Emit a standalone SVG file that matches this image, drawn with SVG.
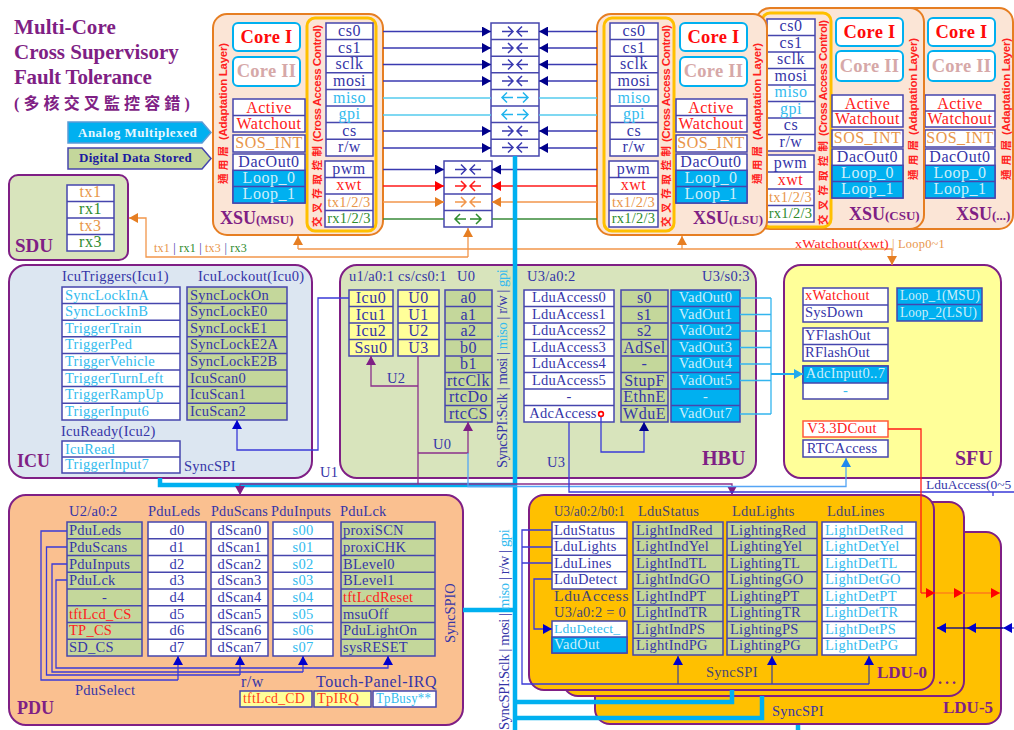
<svg xmlns="http://www.w3.org/2000/svg" width="1014" height="730" viewBox="0 0 1014 730">
<defs>
<style>
text{font-family:"Liberation Serif","Noto Sans CJK TC",serif;font-size:14.5px;letter-spacing:.25px;fill:#3535a8}
.m{text-anchor:middle}
.big{font-size:16px;letter-spacing:.5px}
.n{fill:#3535a8}.k{fill:#33bbee}.r{fill:#ff2020}.a{fill:#e8964a}.g{fill:#2e8b2e}.w{fill:#cdeefa}
.p{fill:#7f1f85;font-weight:bold;font-size:20px;letter-spacing:0}
.px{fill:#7f1f85;font-weight:bold;font-size:18px;letter-spacing:0}
.pp{fill:#7f1f85;font-weight:bold;font-size:13px;letter-spacing:0}
.ti{fill:#7f1f85;font-weight:bold;font-size:21px;letter-spacing:.2px}
.ci{fill:#ff0a0a;font-weight:bold;font-size:18.5px}
.cii{fill:#d6a8a8;font-weight:bold;font-size:18.5px}
.v{font-family:"Liberation Sans","Noto Sans CJK TC",sans-serif;font-weight:bold;font-size:11.5px;fill:#ff2020;letter-spacing:0}
.vc{font-size:10.5px}
.box{stroke:#7f1f85;stroke-width:2}
.xsu{fill:#fbe5d6;stroke:#e67e22;stroke-width:2}
.ylw{fill:#fbe5d6;stroke:#ffc000;stroke-width:3}
.core{fill:#fff;stroke:#00b0f0;stroke-width:2}
.b,.o,.y,.s{stroke:#4646ad;stroke-width:1.5}
.b{fill:#fff}.o{fill:#c4d79b}.y{fill:#ffff99}.s{fill:#00b0f0}
.d{fill:none;stroke:#4646ad;stroke-width:1.5}
.cn{fill:none;stroke-width:1.3}
.nv{stroke:#3a3ab0}.cy{stroke:#55ccee}.rd{stroke:#ff1a1a}.or{stroke:#f2964b}.gr{stroke:#3a8a3a}.pu{stroke:#8b2f8b}.bl{stroke:#3a3ad8}.lb{stroke:#55a5f5}
.th{fill:none;stroke:#00b0f0;stroke-width:4.5}
.ic{fill:none;stroke-width:1.5}
</style>
<path id="cv" d="M-13 0H-2M-7-5L-2 0L-7 5M13 0H2M7-5L2 0L7 5"/>
<path id="dv" d="M-2 0H-13M-8-5L-13 0L-8 5M2 0H13M8-5L13 0L8 5"/>
<marker id="h-nv" markerUnits="userSpaceOnUse" markerWidth="10" markerHeight="10" refX="9" refY="5" orient="auto"><path d="M0 0L9 5L0 10z" fill="#00008b"/></marker>
<marker id="h-bl" markerUnits="userSpaceOnUse" markerWidth="10" markerHeight="10" refX="9" refY="5" orient="auto"><path d="M0 0L9 5L0 10z" fill="#0000cd"/></marker>
<marker id="h-rd" markerUnits="userSpaceOnUse" markerWidth="10" markerHeight="10" refX="9" refY="5" orient="auto"><path d="M0 0L9 5L0 10z" fill="#ff0000"/></marker>
<marker id="h-or" markerUnits="userSpaceOnUse" markerWidth="10" markerHeight="10" refX="9" refY="5" orient="auto"><path d="M0 0L9 5L0 10z" fill="#e67e22"/></marker>
<marker id="h-pu" markerUnits="userSpaceOnUse" markerWidth="10" markerHeight="10" refX="9" refY="5" orient="auto"><path d="M0 0L9 5L0 10z" fill="#7f1f85"/></marker>
<marker id="h-lb" markerUnits="userSpaceOnUse" markerWidth="10" markerHeight="10" refX="9" refY="5" orient="auto"><path d="M0 0L9 5L0 10z" fill="#1e88ee"/></marker>
<marker id="h-cy" markerUnits="userSpaceOnUse" markerWidth="10" markerHeight="10" refX="9" refY="5" orient="auto"><path d="M0 0L9 5L0 10z" fill="#22aaee"/></marker>
</defs>
<rect width="1014" height="730" fill="#fff"/>

<g id="title">
<text class="ti" x="14" y="34" textLength="102">Multi-Core</text>
<text class="ti" x="14" y="59" textLength="165">Cross Supervisory</text>
<text class="ti" x="14" y="84" textLength="138">Fault Tolerance</text>
<text class="ti" x="14" y="109" textLength="176" style="font-size:16px">(多核交叉監控容錯)</text>
</g>

<g id="legend">
<polygon points="68,122 202,122 211,132.5 202,143 68,143" fill="#00b0f0" stroke="#5b9bd5" stroke-width="1.5"/>
<text x="78" y="137" style="fill:#e8f8ff;font-weight:bold;font-size:13px;letter-spacing:.5px">Analog Multiplexed</text>
<polygon points="68,148 202,148 211,158.5 202,169 68,169" fill="#c4d79b" stroke="#4646ad" stroke-width="1.5"/>
<text x="79" y="162" style="fill:#1a1aa0;font-weight:bold;font-size:13px;letter-spacing:.3px">Digital Data Stored</text>
</g>

<g id="XSU-etc">
<rect class="xsu" x="895" y="8" width="118" height="221" rx="14"/>
<rect class="core" x="928" y="18" width="67" height="28" rx="5"/><text class="ci m" x="961.5" y="38">Core I</text>
<rect class="core" x="928" y="51" width="67" height="30" rx="5"/><text class="cii m" x="961.5" y="72">Core II</text>
<rect class="b" x="925" y="95" width="70" height="32"/><path class="d" d="M925 111H995"/>
<text class="r m big" x="960" y="109">Active</text><text class="r m big" x="960" y="124">Watchout</text>
<rect class="b" x="925" y="130" width="70" height="17"/><text class="a m big" x="960" y="143">SOS_INT</text>
<rect class="b" x="925" y="149" width="70" height="49"/><rect class="s" x="925" y="165.3" width="70" height="32.7"/><path class="d" d="M925 181.6H995"/>
<text class="n m big" x="960" y="162">DacOut0</text><text class="w m big" x="960" y="178">Loop_0</text><text class="w m big" x="960" y="194">Loop_1</text>
<text class="v vc" transform="translate(1010,180) rotate(-90)" textLength="40">通用層</text>
<text class="v" transform="translate(1010,135) rotate(-90)" textLength="97">(Adaptation Layer)</text>
<text class="px" x="956" y="220">XSU<tspan class="pp">(...)</tspan></text>
</g>

<g id="XSU-CSU">
<rect class="xsu" x="756" y="8" width="168" height="221" rx="14"/>
<rect class="ylw" x="762" y="13" width="69" height="214" rx="8"/>
<rect class="b" x="767" y="19" width="48" height="132"/>
<path class="d" d="M767 35.5H815M767 52H815M767 68.5H815M767 85H815M767 101.5H815M767 118H815M767 134.5H815"/>
<text class="n m big" x="791" y="31">cs0</text><text class="n m big" x="791" y="48">cs1</text><text class="n m big" x="791" y="64">sclk</text><text class="n m big" x="791" y="81">mosi</text><text class="k m big" x="791" y="97">miso</text><text class="k m big" x="791" y="114">gpi</text><text class="n m big" x="791" y="130">cs</text><text class="n m big" x="791" y="147">r/w</text>
<rect class="b" x="767" y="155" width="47" height="67"/><path class="d" d="M767 172H814M767 189H814M767 205.5H814"/>
<text class="n m big" x="790.5" y="168">pwm</text><text class="r m big" x="790.5" y="185">xwt</text><text class="a m" x="790.5" y="202">tx1/2/3</text><text class="g m" x="790.5" y="218">rx1/2/3</text>
<text class="v vc" transform="translate(827,225) rotate(-90)" textLength="84">交叉存取控制</text>
<text class="v" transform="translate(827,136) rotate(-90)" textLength="116">(Cross Access Control)</text>
<rect class="core" x="836" y="18" width="67" height="28" rx="5"/><text class="ci m" x="869.5" y="38">Core I</text>
<rect class="core" x="836" y="51" width="67" height="30" rx="5"/><text class="cii m" x="869.5" y="72">Core II</text>
<rect class="b" x="832" y="95" width="71" height="32"/><path class="d" d="M832 111H903"/>
<text class="r m big" x="867.5" y="109">Active</text><text class="r m big" x="867.5" y="124">Watchout</text>
<rect class="b" x="832" y="130" width="71" height="17"/><text class="a m big" x="867.5" y="143">SOS_INT</text>
<rect class="b" x="832" y="149" width="71" height="49"/><rect class="s" x="832" y="165.3" width="71" height="32.7"/><path class="d" d="M832 181.6H903"/>
<text class="n m big" x="867.5" y="162">DacOut0</text><text class="w m big" x="867.5" y="178">Loop_0</text><text class="w m big" x="867.5" y="194">Loop_1</text>
<text class="v vc" transform="translate(917,180) rotate(-90)" textLength="40">通用層</text>
<text class="v" transform="translate(917,135) rotate(-90)" textLength="97">(Adaptation Layer)</text>
<text class="px" x="849" y="220">XSU<tspan class="pp">(CSU)</tspan></text>
</g>

<g id="XSU-LSU">
<rect class="xsu" x="597" y="14" width="170" height="221" rx="14"/>
<rect class="ylw" x="604" y="18" width="70" height="213" rx="8"/>
<rect class="b" x="610" y="23" width="48" height="133"/>
<path class="d" d="M610 39.6H658M610 56.2H658M610 72.8H658M610 89.4H658M610 106H658M610 122.6H658M610 139.2H658"/>
<text class="n m big" x="634" y="36">cs0</text><text class="n m big" x="634" y="53">cs1</text><text class="n m big" x="634" y="69">sclk</text><text class="n m big" x="634" y="86">mosi</text><text class="k m big" x="634" y="103">miso</text><text class="k m big" x="634" y="119">gpi</text><text class="n m big" x="634" y="136">cs</text><text class="n m big" x="634" y="152">r/w</text>
<rect class="b" x="609" y="161" width="49" height="66"/><path class="d" d="M609 177.5H658M609 194H658M609 210.5H658"/>
<text class="n m big" x="633.5" y="174">pwm</text><text class="r m big" x="633.5" y="190">xwt</text><text class="a m" x="633.5" y="207">tx1/2/3</text><text class="g m" x="633.5" y="223">rx1/2/3</text>
<text class="v vc" transform="translate(670,227) rotate(-90)" textLength="81">交叉存取控制</text>
<text class="v" transform="translate(670,142) rotate(-90)" textLength="117">(Cross Access Control)</text>
<rect class="core" x="680" y="23" width="67" height="28" rx="5"/><text class="ci m" x="713.5" y="43">Core I</text>
<rect class="core" x="680" y="57" width="67" height="29" rx="5"/><text class="cii m" x="713.5" y="77">Core II</text>
<rect class="b" x="676" y="99" width="71" height="33"/><path class="d" d="M676 115.5H747"/>
<text class="r m big" x="711" y="113">Active</text><text class="r m big" x="711" y="129">Watchout</text>
<rect class="b" x="676" y="135" width="71" height="17"/><text class="a m big" x="711" y="148">SOS_INT</text>
<rect class="b" x="676" y="154" width="71" height="49"/><rect class="s" x="676" y="170.3" width="71" height="32.7"/><path class="d" d="M676 186.6H747"/>
<text class="n m big" x="711" y="167">DacOut0</text><text class="w m big" x="711" y="183">Loop_0</text><text class="w m big" x="711" y="199">Loop_1</text>
<text class="v vc" transform="translate(761,184) rotate(-90)" textLength="38">通用層</text>
<text class="v" transform="translate(761,140) rotate(-90)" textLength="97">(Adaptation Layer)</text>
<text class="px" x="693" y="224">XSU<tspan class="pp">(LSU)</tspan></text>
</g>

<g id="XSU-MSU">
<rect class="xsu" x="213" y="14" width="170" height="221" rx="14"/>
<rect class="ylw" x="307" y="18" width="69" height="213" rx="8"/>
<rect class="b" x="326" y="23" width="47" height="133"/>
<path class="d" d="M326 39.6H373M326 56.2H373M326 72.8H373M326 89.4H373M326 106H373M326 122.6H373M326 139.2H373"/>
<text class="n m big" x="349.5" y="36">cs0</text><text class="n m big" x="349.5" y="53">cs1</text><text class="n m big" x="349.5" y="69">sclk</text><text class="n m big" x="349.5" y="86">mosi</text><text class="k m big" x="349.5" y="103">miso</text><text class="k m big" x="349.5" y="119">gpi</text><text class="n m big" x="349.5" y="136">cs</text><text class="n m big" x="349.5" y="152">r/w</text>
<rect class="b" x="325" y="161" width="48" height="66"/><path class="d" d="M325 177.5H373M325 194H373M325 210.5H373"/>
<text class="n m big" x="349" y="174">pwm</text><text class="r m big" x="349" y="190">xwt</text><text class="a m" x="349" y="207">tx1/2/3</text><text class="g m" x="349" y="223">rx1/2/3</text>
<text class="v vc" transform="translate(321,227) rotate(-90)" textLength="81">交叉存取控制</text>
<text class="v" transform="translate(321,142) rotate(-90)" textLength="117">(Cross Access Control)</text>
<rect class="core" x="233" y="23" width="67" height="28" rx="5"/><text class="ci m" x="266.5" y="43">Core I</text>
<rect class="core" x="233" y="57" width="67" height="29" rx="5"/><text class="cii m" x="266.5" y="77">Core II</text>
<rect class="b" x="233" y="99" width="72" height="33"/><path class="d" d="M233 115.5H305"/>
<text class="r m big" x="269" y="113">Active</text><text class="r m big" x="269" y="129">Watchout</text>
<rect class="b" x="233" y="135" width="72" height="17"/><text class="a m big" x="269" y="148">SOS_INT</text>
<rect class="b" x="233" y="154" width="72" height="49"/><rect class="s" x="233" y="170.3" width="72" height="32.7"/><path class="d" d="M233 186.6H305"/>
<text class="n m big" x="269" y="167">DacOut0</text><text class="w m big" x="269" y="183">Loop_0</text><text class="w m big" x="269" y="199">Loop_1</text>
<text class="v vc" transform="translate(227,184) rotate(-90)" textLength="38">通用層</text>
<text class="v" transform="translate(227,140) rotate(-90)" textLength="97">(Adaptation Layer)</text>
<text class="px" x="220" y="224">XSU<tspan class="pp">(MSU)</tspan></text>
</g>

<g id="SDU">
<rect class="box" x="9" y="175" width="119" height="85" rx="9" fill="#d8e4bc"/>
<rect class="b" x="67" y="185" width="47" height="66"/><path class="d" d="M67 201.5H114M67 218H114M67 234.5H114"/>
<text class="a m big" x="90.5" y="197">tx1</text><text class="g m big" x="90.5" y="214">rx1</text><text class="a m big" x="90.5" y="231">tx3</text><text class="g m big" x="90.5" y="247">rx3</text>
<text class="p" x="15" y="252" style="font-size:19px">SDU</text>
</g>

<g id="bus-main">
<rect class="b" x="491" y="23" width="48" height="133"/>
<path class="d" d="M491 39.6H539M491 56.2H539M491 72.8H539M491 89.4H539M491 106H539M491 122.6H539M491 139.2H539"/>
<g class="ic" stroke="#3a3ab0"><use href="#cv" x="515" y="31.5"/><use href="#cv" x="515" y="48"/><use href="#cv" x="515" y="64.5"/><use href="#cv" x="515" y="81"/><use href="#cv" x="515" y="131"/><use href="#cv" x="515" y="147.5"/></g>
<g class="ic" stroke="#22b5ee"><use href="#dv" x="515" y="97.5"/><use href="#dv" x="515" y="114.5"/></g>
</g>
<g id="bus-lower">
<rect class="b" x="444" y="161" width="48" height="66"/><path class="d" d="M444 177.5H492M444 194H492M444 210.5H492"/>
<use class="ic" stroke="#3a3ab0" href="#cv" x="468" y="169.5"/><use class="ic" stroke="#ff1a1a" href="#cv" x="468" y="186"/><use class="ic" stroke="#f2964b" href="#cv" x="468" y="202"/><use class="ic" stroke="#2e8b2e" href="#dv" x="468" y="219"/>
</g>

<g id="ICU">
<rect class="box" x="9" y="265" width="303" height="213" rx="17" fill="#dce6f1"/>
<text x="62" y="281">IcuTriggers(Icu1)</text><text x="198" y="281">IcuLockout(Icu0)</text>
<rect class="b" x="62" y="287" width="118" height="133"/>
<path class="d" d="M62 303.6H180M62 320.2H180M62 336.8H180M62 353.4H180M62 370H180M62 386.6H180M62 403.2H180"/>
<text class="k" x="65" y="299.5">SyncLockInA</text><text class="k" x="65" y="316">SyncLockInB</text><text class="k" x="65" y="332.5">TriggerTrain</text><text class="k" x="65" y="349">TriggerPed</text><text class="k" x="65" y="366">TriggerVehicle</text><text class="k" x="65" y="382.5">TriggerTurnLeft</text><text class="k" x="65" y="399">TriggerRampUp</text><text class="k" x="65" y="415.5">TriggerInput6</text>
<rect class="o" x="187" y="287" width="100" height="133"/>
<path class="d" d="M187 303.6H287M187 320.2H287M187 336.8H287M187 353.4H287M187 370H287M187 386.6H287M187 403.2H287"/>
<text x="190" y="299.5">SyncLockOn</text><text x="190" y="316">SyncLockE0</text><text x="190" y="332.5">SyncLockE1</text><text x="190" y="349">SyncLockE2A</text><text x="190" y="366">SyncLockE2B</text><text x="190" y="382.5">IcuScan0</text><text x="190" y="399">IcuScan1</text><text x="190" y="415.5">IcuScan2</text>
<text x="61" y="436">IcuReady(Icu2)</text>
<rect class="b" x="62" y="441" width="118" height="32"/><path class="d" d="M62 457H180"/>
<text class="k" x="65" y="453.5">IcuRead</text><text class="k" x="65" y="469">TriggerInput7</text>
<text x="184" y="471">SyncSPI</text>
<text class="px" x="17" y="467">ICU</text>
</g>

<g id="HBU">
<rect class="box" x="340" y="265" width="416" height="213" rx="17" fill="#d8e4bc"/>
<text x="349" y="281">u1/a0:1 cs/cs0:1</text><text x="457" y="281">U0</text><text x="527" y="281">U3/a0:2</text><text x="702" y="281">U3/s0:3</text>
<rect class="y" x="349" y="290" width="44" height="66"/><path class="d" d="M349 306.5H393M349 323H393M349 339.5H393"/>
<text class="m big" x="371" y="303">Icu0</text><text class="m big" x="371" y="319.5">Icu1</text><text class="m big" x="371" y="336">Icu2</text><text class="m big" x="371" y="352.5">Ssu0</text>
<rect class="y" x="398" y="290" width="41" height="66"/><path class="d" d="M398 306.5H439M398 323H439M398 339.5H439"/>
<text class="m big" x="418.5" y="303">U0</text><text class="m big" x="418.5" y="319.5">U1</text><text class="m big" x="418.5" y="336">U2</text><text class="m big" x="418.5" y="352.5">U3</text>
<rect class="o" x="445" y="290" width="47" height="132"/>
<path class="d" d="M445 306.5H492M445 323H492M445 339.5H492M445 356H492M445 372.5H492M445 389H492M445 405.5H492"/>
<text class="m big" x="468.5" y="303">a0</text><text class="m big" x="468.5" y="319.5">a1</text><text class="m big" x="468.5" y="336">a2</text><text class="m big" x="468.5" y="352.5">b0</text><text class="m big" x="468.5" y="369">b1</text><text class="m big" x="468.5" y="385.5">rtcClk</text><text class="m big" x="468.5" y="402">rtcDo</text><text class="m big" x="468.5" y="418.5">rtcCS</text>
<rect class="b" x="524" y="290" width="90" height="132"/>
<path class="d" d="M524 306.5H614M524 323H614M524 339.5H614M524 356H614M524 372.5H614M524 389H614M524 405.5H614"/>
<text class="m" x="569" y="302">LduAccess0</text><text class="m" x="569" y="318.5">LduAccess1</text><text class="m" x="569" y="335">LduAccess2</text><text class="m" x="569" y="351.5">LduAccess3</text><text class="m" x="569" y="368">LduAccess4</text><text class="m" x="569" y="384.5">LduAccess5</text><text class="m" x="569" y="401">-</text><text class="m" x="563" y="417.5">AdcAccess</text>
<rect class="o" x="621" y="290" width="47" height="132"/>
<path class="d" d="M621 306.5H668M621 323H668M621 339.5H668M621 356H668M621 372.5H668M621 389H668M621 405.5H668"/>
<text class="m big" x="644.5" y="303">s0</text><text class="m big" x="644.5" y="319.5">s1</text><text class="m big" x="644.5" y="336">s2</text><text class="m big" x="644.5" y="352.5">AdSel</text><text class="m big" x="644.5" y="369">-</text><text class="m big" x="644.5" y="385.5">StupF</text><text class="m big" x="644.5" y="402">EthnE</text><text class="m big" x="644.5" y="418.5">WduE</text>
<rect class="s" x="671" y="290" width="69" height="132"/>
<path class="d" d="M671 306.5H740M671 323H740M671 339.5H740M671 356H740M671 372.5H740M671 389H740M671 405.5H740"/>
<text class="w m" x="705.5" y="302">VadOut0</text><text class="w m" x="705.5" y="318.5">VadOut1</text><text class="w m" x="705.5" y="335">VadOut2</text><text class="w m" x="705.5" y="351.5">VadOut3</text><text class="w m" x="705.5" y="368">VadOut4</text><text class="w m" x="705.5" y="384.5">VadOut5</text><text class="w m" x="705.5" y="401">-</text><text class="w m" x="705.5" y="417.5">VadOut7</text>
<text class="p" x="702" y="465">HBU</text>
</g>

<g id="SFU">
<rect class="box" x="784" y="265" width="217" height="213" rx="17" fill="#ffff99"/>
<rect class="b" x="803" y="288" width="85" height="34"/><path class="d" d="M803 305H888"/>
<text class="r" x="805" y="300">xWatchout</text><text x="805" y="316.5">SysDown</text>
<rect class="b" x="803" y="328" width="85" height="33"/><path class="d" d="M803 344.5H888"/>
<text x="805" y="340">YFlashOut</text><text x="805" y="357">RFlashOut</text>
<rect class="b" x="803" y="366" width="85" height="33"/><rect class="s" x="803" y="366" width="85" height="17"/>
<text class="w m" x="845.5" y="378">AdcInput0..7</text><text class="k m" x="845.5" y="395">-</text>
<rect class="b" x="803" y="421" width="85" height="16" style="stroke:#ff5a3c"/><text class="r m" x="842" y="433">V3.3DCout</text>
<rect class="b" x="803" y="440" width="85" height="17"/><text class="m" x="842" y="453">RTCAccess</text>
<rect class="s" x="897" y="288" width="85" height="33"/><path class="d" d="M897 304.5H982"/>
<text class="w" x="900" y="300" textLength="80" lengthAdjust="spacingAndGlyphs">Loop_1(MSU)</text><text class="w" x="900" y="316.5" textLength="77" lengthAdjust="spacingAndGlyphs">Loop_2(LSU)</text>
<text class="p" x="955" y="465">SFU</text>
</g>

<g id="PDU">
<rect class="box" x="9" y="495" width="454" height="230" rx="17" fill="#fac090"/>
<text x="69" y="516">U2/a0:2</text><text x="148" y="516">PduLeds</text><text x="211" y="516" textLength="57" lengthAdjust="spacingAndGlyphs">PduScans</text><text x="271" y="516" textLength="60" lengthAdjust="spacingAndGlyphs">PduInputs</text><text x="340" y="516">PduLck</text>
<rect class="o" x="67" y="522" width="75" height="134"/>
<path class="d" d="M67 538.75H142M67 555.5H142M67 572.25H142M67 589H142M67 605.75H142M67 622.5H142M67 639.25H142"/>
<text x="69" y="535">PduLeds</text><text x="69" y="551.5">PduScans</text><text x="69" y="568.5">PduInputs</text><text x="69" y="585">PduLck</text><text class="m" x="104.5" y="602">-</text><text class="r" x="69" y="618.5">tftLcd_CS</text><text class="r" x="69" y="635">TP_CS</text><text x="69" y="651.5">SD_CS</text>
<rect class="b" x="148" y="522" width="58" height="134"/>
<path class="d" d="M148 538.75H206M148 555.5H206M148 572.25H206M148 589H206M148 605.75H206M148 622.5H206M148 639.25H206"/>
<text class="m" x="177" y="535">d0</text><text class="m" x="177" y="551.5">d1</text><text class="m" x="177" y="568.5">d2</text><text class="m" x="177" y="585">d3</text><text class="m" x="177" y="602">d4</text><text class="m" x="177" y="618.5">d5</text><text class="m" x="177" y="635">d6</text><text class="m" x="177" y="651.5">d7</text>
<rect class="b" x="211" y="522" width="57" height="134"/>
<path class="d" d="M211 538.75H268M211 555.5H268M211 572.25H268M211 589H268M211 605.75H268M211 622.5H268M211 639.25H268"/>
<text class="m" x="239.5" y="535">dScan0</text><text class="m" x="239.5" y="551.5">dScan1</text><text class="m" x="239.5" y="568.5">dScan2</text><text class="m" x="239.5" y="585">dScan3</text><text class="m" x="239.5" y="602">dScan4</text><text class="m" x="239.5" y="618.5">dScan5</text><text class="m" x="239.5" y="635">dScan6</text><text class="m" x="239.5" y="651.5">dScan7</text>
<rect class="b" x="273" y="522" width="60" height="134"/>
<path class="d" d="M273 538.75H333M273 555.5H333M273 572.25H333M273 589H333M273 605.75H333M273 622.5H333M273 639.25H333"/>
<text class="k m" x="303" y="535">s00</text><text class="k m" x="303" y="551.5">s01</text><text class="k m" x="303" y="568.5">s02</text><text class="k m" x="303" y="585">s03</text><text class="k m" x="303" y="602">s04</text><text class="k m" x="303" y="618.5">s05</text><text class="k m" x="303" y="635">s06</text><text class="k m" x="303" y="651.5">s07</text>
<rect class="o" x="341" y="522" width="94" height="134"/>
<path class="d" d="M341 538.75H435M341 555.5H435M341 572.25H435M341 589H435M341 605.75H435M341 622.5H435M341 639.25H435"/>
<text x="343" y="535">proxiSCN</text><text x="343" y="551.5">proxiCHK</text><text x="343" y="568.5">BLevel0</text><text x="343" y="585">BLevel1</text><text class="r" x="343" y="602">tftLcdReset</text><text x="343" y="618.5">msuOff</text><text x="343" y="635">PduLightOn</text><text x="343" y="651.5">sysRESET</text>
<text x="75" y="695">PduSelect</text>
<text x="241" y="687" class="big">r/w</text>
<text x="316" y="687" class="big">Touch-Panel-IRQ</text>
<rect class="y" x="240" y="691" width="72" height="16"/><text class="r" x="243" y="703" textLength="62" lengthAdjust="spacingAndGlyphs" style="fill:#ff3b1a">tftLcd_CD</text>
<rect class="y" x="314" y="691" width="57" height="16"/><text class="r" x="317" y="703" style="fill:#ff3b1a">TpIRQ</text>
<rect class="b" x="373" y="691" width="63" height="16"/><text class="k" x="376" y="703" textLength="55" lengthAdjust="spacingAndGlyphs">TpBusy**</text>
<text transform="translate(455,643) rotate(-90)" textLength="60">SyncSPIO</text>
<text class="px" x="17" y="714">PDU</text>
</g>

<g id="LDU-5">
<rect class="box" x="595" y="532" width="406" height="192" rx="15" fill="#ffc000"/>
<text x="772" y="716">SyncSPI</text>
<text class="px" x="943" y="713" style="font-size:17px">LDU-5</text>
</g>
<g id="LDU-mid">
<rect class="box" x="563" y="502" width="401" height="194" rx="15" fill="#ffc000"/>
<text class="p" x="938" y="684" style="letter-spacing:3px;font-size:16px">...</text>
</g>
<g id="LDU-0">
<rect class="box" x="529" y="495" width="405" height="195" rx="15" fill="#ffc000"/>
<text x="554" y="516" textLength="71" lengthAdjust="spacingAndGlyphs" style="fill:#444477">U3/a0:2/b0:1</text><text x="638" y="516" style="fill:#444477">LduStatus</text><text x="732" y="516" style="fill:#444477">LduLights</text><text x="827" y="516" style="fill:#444477">LduLines</text>
<rect class="b" x="552" y="522" width="75" height="67"/><path class="d" d="M552 538.6H627M552 555.2H627M552 571.8H627"/>
<text x="554" y="534.5">LduStatus</text><text x="554" y="551">LduLights</text><text x="554" y="567.5">LduLines</text><text x="554" y="584">LduDetect</text>
<text x="554" y="601" style="font-size:15.5px;letter-spacing:.7px;fill:#444477">LduAccess</text>
<text x="554" y="617" textLength="72" lengthAdjust="spacingAndGlyphs" style="font-size:14px;fill:#444477">U3/a0:2 = 0</text>
<rect class="b" x="552" y="621" width="75" height="32"/><rect class="s" x="552" y="637" width="75" height="16"/>
<text class="k" x="554" y="632.5" style="font-size:13.5px">LduDetect_</text><text class="w" x="554" y="649">VadOut</text>
<rect class="o" x="633" y="522" width="90" height="133"/>
<path class="d" d="M633 538.6H723M633 555.2H723M633 571.8H723M633 588.4H723M633 605H723M633 621.6H723M633 638.2H723"/>
<text x="636" y="534.5">LightIndRed</text><text x="636" y="551">LightIndYel</text><text x="636" y="567.5">LightIndTL</text><text x="636" y="584">LightIndGO</text><text x="636" y="600.5">LightIndPT</text><text x="636" y="617">LightIndTR</text><text x="636" y="633.5">LightIndPS</text><text x="636" y="650">LightIndPG</text>
<rect class="o" x="727" y="522" width="90" height="133"/>
<path class="d" d="M727 538.6H817M727 555.2H817M727 571.8H817M727 588.4H817M727 605H817M727 621.6H817M727 638.2H817"/>
<text x="730" y="534.5">LightingRed</text><text x="730" y="551">LightingYel</text><text x="730" y="567.5">LightingTL</text><text x="730" y="584">LightingGO</text><text x="730" y="600.5">LightingPT</text><text x="730" y="617">LightingTR</text><text x="730" y="633.5">LightingPS</text><text x="730" y="650">LightingPG</text>
<rect class="b" x="822" y="522" width="94" height="133"/>
<path class="d" d="M822 538.6H916M822 555.2H916M822 571.8H916M822 588.4H916M822 605H916M822 621.6H916M822 638.2H916"/>
<text class="k" x="825" y="534.5">LightDetRed</text><text class="k" x="825" y="551">LightDetYel</text><text class="k" x="825" y="567.5">LightDetTL</text><text class="k" x="825" y="584">LightDetGO</text><text class="k" x="825" y="600.5">LightDetPT</text><text class="k" x="825" y="617">LightDetTR</text><text class="k" x="825" y="633.5">LightDetPS</text><text class="k" x="825" y="650">LightDetPG</text>
<text x="706" y="677" style="fill:#444477">SyncSPI</text>
<text class="px" x="877" y="678" style="font-size:17px">LDU-0</text>
</g>

<g id="connectors">
<path class="cn nv" marker-end="url(#h-nv)" d="M383 31.5H491"/><path class="cn nv" marker-end="url(#h-nv)" d="M383 48H491"/><path class="cn nv" marker-end="url(#h-nv)" d="M383 64.5H491"/><path class="cn nv" marker-end="url(#h-nv)" d="M383 81H491"/><path class="cn nv" marker-end="url(#h-nv)" d="M383 131H491"/><path class="cn nv" marker-end="url(#h-nv)" d="M383 148H491"/>
<path class="cn nv" marker-end="url(#h-nv)" d="M597 31.5H539"/><path class="cn nv" marker-end="url(#h-nv)" d="M597 48H539"/><path class="cn nv" marker-end="url(#h-nv)" d="M597 64.5H539"/><path class="cn nv" marker-end="url(#h-nv)" d="M597 81H539"/><path class="cn nv" marker-end="url(#h-nv)" d="M597 131H539"/><path class="cn nv" marker-end="url(#h-nv)" d="M597 148H539"/>
<path class="cn cy" d="M383 98H491M539 98H597M383 115H491M539 115H597"/>
<path class="cn nv" marker-end="url(#h-nv)" d="M383 169.5H444"/><path class="cn nv" marker-end="url(#h-nv)" d="M597 169.5H492"/>
<path class="cn rd" marker-end="url(#h-rd)" d="M383 186H444"/><path class="cn rd" marker-end="url(#h-rd)" d="M597 186H492"/>
<path class="cn or" marker-end="url(#h-or)" d="M383 202H444"/><path class="cn or" marker-end="url(#h-or)" d="M597 202H492"/>
<path class="cn gr" d="M383 219H444M492 219H597"/>
<path class="cn or" marker-end="url(#h-or)" d="M468 257H146V218H129"/>
<path class="cn or" marker-end="url(#h-or)" d="M468 257V228"/>
<path class="cn or" marker-end="url(#h-or)" d="M298 249V236"/>
<path class="cn or" marker-end="url(#h-or)" d="M682 249V236"/>
<path class="cn or" marker-end="url(#h-or)" d="M298 249H892V265"/>
<path class="th" d="M515 156V730"/>
<path class="th" d="M160 478V485H515"/>
<path class="th" d="M463 610H515"/>
<path class="th" d="M515 702H732V690"/>
<path class="th" d="M515 718H762V696"/>
<path class="th" d="M798 725V730"/>
<path class="cn bl" marker-end="url(#h-bl)" d="M349 298H318V450H237V420"/>
<path class="cn pu" d="M418 356V484"/>
<path class="cn pu" marker-end="url(#h-pu)" d="M418 386H371V356"/>
<path class="cn pu" marker-end="url(#h-pu)" d="M418 453H468V422"/>
<path class="cn pu" marker-end="url(#h-pu)" d="M240 484H732V495"/>
<path class="cn pu" marker-end="url(#h-pu)" d="M240 484V495"/>
<path class="cn lb" marker-end="url(#h-lb)" d="M468 453V486.5H846V458"/>
<path class="cn bl" d="M569 422V492H1014"/>
<path class="cn bl" d="M993 492V496"/>
<path class="cn bl" marker-end="url(#h-nv)" d="M601 416V452H644V422"/>
<circle cx="601" cy="414" r="2.4" fill="#fff" stroke="#ff0000" stroke-width="1.6"/>
<path class="cn" stroke="#33b5ee" d="M740 298H771M740 314.5H771M740 331H771M740 347.5H771M740 364H771M740 380.5H771M740 414H771M771 298V414"/>
<path fill="none" stroke="#22aaee" stroke-width="2" marker-end="url(#h-cy)" d="M771 374H803"/>
<path class="cn rd" d="M888 429H921V593"/>
<path class="cn rd" marker-end="url(#h-rd)" d="M921 593H935"/>
<path fill="none" stroke="#ff7a1a" stroke-width="1.3" marker-end="url(#h-rd)" d="M935 593H963"/>
<path fill="none" stroke="#ff7a1a" stroke-width="1.3" marker-end="url(#h-rd)" d="M963 593H1000"/>
<path class="cn bl" marker-end="url(#h-bl)" d="M1014 628H1003"/>
<path fill="none" stroke="#00008b" stroke-width="1.3" marker-end="url(#h-bl)" d="M1003 628H967"/>
<path fill="none" stroke="#00008b" stroke-width="1.3" marker-end="url(#h-bl)" d="M967 628H937"/>
<path class="cn bl" d="M67 531H41V680H178"/><path class="cn bl" marker-end="url(#h-bl)" d="M178 680V656"/>
<path class="cn bl" d="M67 547H46.5V675H240"/><path class="cn bl" marker-end="url(#h-bl)" d="M240 675V656"/>
<path class="cn bl" d="M67 564H52V672H303"/><path class="cn bl" marker-end="url(#h-bl)" d="M303 672V656"/>
<path class="cn bl" marker-end="url(#h-bl)" d="M67 580H56V668H388V656"/>
<path class="cn bl" d="M552 530H522V684H869"/><path class="cn bl" d="M552 547H522M552 563H522"/>
<path class="cn" stroke="#4a4a8a" marker-end="url(#h-bl)" d="M678 684V656"/>
<path class="cn" stroke="#4a4a8a" marker-end="url(#h-bl)" d="M772 684V656"/>
<path class="cn" stroke="#4a4a8a" marker-end="url(#h-bl)" d="M869 684V656"/>
<path class="cn bl" marker-end="url(#h-bl)" d="M552 579H534V629H552"/>
</g>

<g id="labels">
<text x="154" y="252" class="a" textLength="93" lengthAdjust="spacingAndGlyphs" style="font-size:13px">tx1 <tspan class="n">|</tspan> <tspan class="g">rx1</tspan> <tspan class="n">|</tspan> tx3 <tspan class="n">|</tspan> <tspan class="g">rx3</tspan></text>
<text x="795" y="248" class="r" style="font-size:13.5px" textLength="94" lengthAdjust="spacingAndGlyphs">xWatchout(xwt)</text>
<text x="892" y="248" class="a" style="font-size:13.5px" textLength="53" lengthAdjust="spacingAndGlyphs">| Loop0~1</text>
<text x="320" y="477">U1</text><text x="387" y="383">U2</text><text x="433" y="449">U0</text><text x="547" y="467">U3</text>
<text x="926" y="489" style="font-size:13.5px;letter-spacing:0">LduAccess(0~5</text>
<text transform="translate(507,468) rotate(-90)" textLength="199">SyncSPI:Sclk | mosi | <tspan class="k">miso</tspan> | r/w | <tspan class="k">gpi</tspan></text>
<text transform="translate(509,730) rotate(-90)" textLength="201">SyncSPI:Sclk | mosi | <tspan class="k">miso</tspan> | r/w | <tspan class="k">gpi</tspan></text>
</g>
</svg>
